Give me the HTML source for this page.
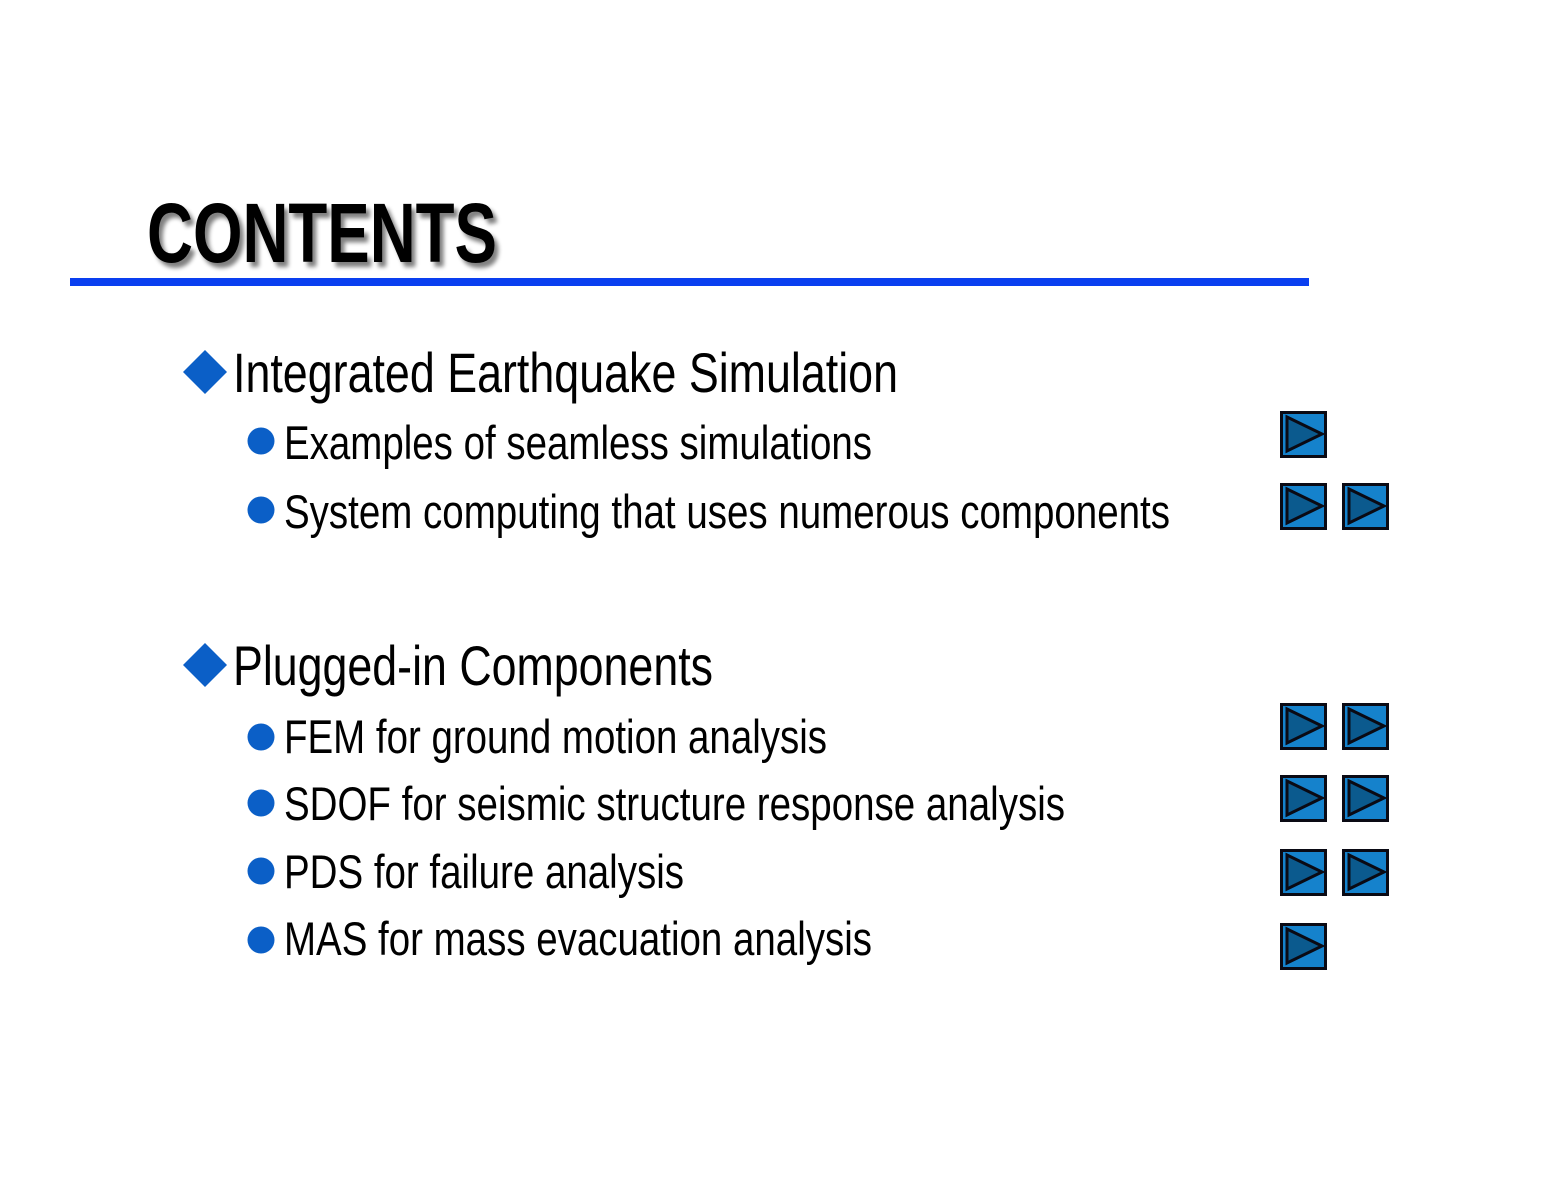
<!DOCTYPE html>
<html><head><meta charset="utf-8"><style>
html,body{margin:0;padding:0;background:#fff;}
svg{display:block}
text{font-family:"Liberation Sans",sans-serif;fill:#000}
</style></head><body>
<svg width="1552" height="1199" viewBox="0 0 1552 1199" xmlns="http://www.w3.org/2000/svg">
<defs>
<filter id="sh" x="-10%" y="-10%" width="130%" height="140%"><feGaussianBlur in="SourceAlpha" stdDeviation="2"/><feOffset dx="4" dy="5"/><feComponentTransfer><feFuncA type="linear" slope="0.5"/></feComponentTransfer><feMerge><feMergeNode/><feMergeNode in="SourceGraphic"/></feMerge></filter>
<g id="btn"><rect x="1.5" y="1.5" width="44" height="44" fill="#1582cc" stroke="#0a0a14" stroke-width="3"/><path d="M7,6 L42,23 L7,40 Z" fill="#0b5a8e" stroke="#0a0a14" stroke-width="3" stroke-linejoin="miter"/></g>
</defs>
<text x="147" y="262" font-size="84" font-weight="bold" textLength="350" lengthAdjust="spacingAndGlyphs" filter="url(#sh)">CONTENTS</text>
<rect x="70" y="278" width="1239" height="8" fill="#0a3ff0"/>
<path d="M205,350 L227,372 L205,394 L183,372 Z" fill="#0b5fc7"/>
<text x="233" y="392" font-size="56" textLength="665" lengthAdjust="spacingAndGlyphs">Integrated Earthquake Simulation</text>
<circle cx="261" cy="441" r="13.5" fill="#0b5fc7"/>
<text x="284" y="459" font-size="47" textLength="588" lengthAdjust="spacingAndGlyphs">Examples of seamless simulations</text>
<circle cx="261" cy="510" r="13.5" fill="#0b5fc7"/>
<text x="284" y="528" font-size="47" textLength="886" lengthAdjust="spacingAndGlyphs">System computing that uses numerous components</text>
<path d="M205,643 L227,665 L205,687 L183,665 Z" fill="#0b5fc7"/>
<text x="233" y="685" font-size="56" textLength="480" lengthAdjust="spacingAndGlyphs">Plugged-in Components</text>
<circle cx="261" cy="737" r="13.5" fill="#0b5fc7"/>
<text x="284" y="753" font-size="47" textLength="543" lengthAdjust="spacingAndGlyphs">FEM for ground motion analysis</text>
<circle cx="261" cy="803" r="13.5" fill="#0b5fc7"/>
<text x="284" y="820" font-size="47" textLength="781" lengthAdjust="spacingAndGlyphs">SDOF for seismic structure response analysis</text>
<circle cx="261" cy="871" r="13.5" fill="#0b5fc7"/>
<text x="284" y="888" font-size="47" textLength="400" lengthAdjust="spacingAndGlyphs">PDS for failure analysis</text>
<circle cx="261" cy="940" r="13.5" fill="#0b5fc7"/>
<text x="284" y="955" font-size="47" textLength="588" lengthAdjust="spacingAndGlyphs">MAS for mass evacuation analysis</text>
<use href="#btn" x="1280" y="411"/>
<use href="#btn" x="1280" y="483"/><use href="#btn" x="1342" y="483"/>
<use href="#btn" x="1280" y="703"/><use href="#btn" x="1342" y="703"/>
<use href="#btn" x="1280" y="775"/><use href="#btn" x="1342" y="775"/>
<use href="#btn" x="1280" y="849"/><use href="#btn" x="1342" y="849"/>
<use href="#btn" x="1280" y="923"/>
</svg>
</body></html>
